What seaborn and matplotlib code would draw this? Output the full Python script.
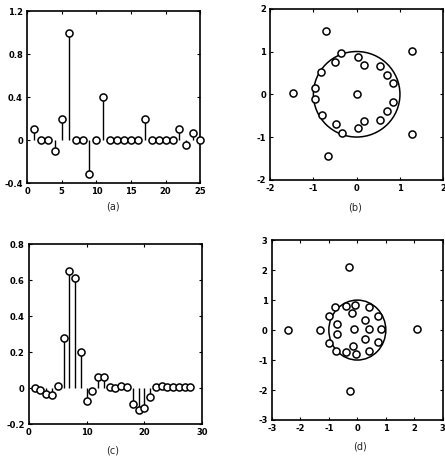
import numpy as np
import pandas as pd
import matplotlib
matplotlib.use("Agg")
import matplotlib.pyplot as plt
from matplotlib.patches import Circle
import seaborn as sns

# ---- data ----
a_n = list(range(1, 26))
a_val = [0.1, 0, 0, -0.1, 0.2, 1.0, 0, 0, -0.32, 0, 0.4, 0, 0, 0, 0, 0,
         0.2, 0, 0, 0, 0, 0.1, -0.05, 0.07, 0]

c_n = list(range(1, 29))
c_val = [0, -0.01, -0.03, -0.04, 0.01, 0.28, 0.65, 0.61, 0.2, -0.07, -0.015,
         0.06, 0.06, 0.005, 0, 0.01, 0.005, -0.09, -0.12, -0.11, -0.05,
         0.005, 0.01, 0.005, 0.005, 0.005, 0.005, 0.005]

b_re = [-0.70, 1.29, -1.46, 0.0, 1.29, -0.66, -0.36, -0.50, -0.82, -0.96,
        -0.96, -0.80, -0.48, -0.35, 0.03, 0.18, 0.55, 0.70, 0.85, 0.85,
        0.70, 0.54, 0.16, 0.02]
b_im = [1.49, 1.01, 0.02, 0.0, -0.93, -1.44, 0.96, 0.75, 0.52, 0.15,
        -0.11, -0.48, -0.70, -0.91, -0.80, -0.63, -0.59, -0.38, -0.18, 0.27,
        0.46, 0.67, 0.69, 0.875]

d_re = [-0.30, -0.27, -2.44, -1.30, 2.09, -0.12, -1.01, -0.77, -0.41, -0.09,
        -0.19, 0.40, 0.74, 0.84, 0.74, 0.41, -0.06, -0.40, -0.76, -0.99,
        -0.71, -0.71, 0.26, 0.41, 0.26, -0.16]
d_im = [2.09, -2.02, 0.0, 0.0, 0.03, 0.02, 0.48, 0.77, 0.79, 0.84,
        0.58, 0.77, 0.46, 0.02, -0.41, -0.70, -0.79, -0.72, -0.70, -0.42,
        0.20, -0.14, 0.34, 0.02, -0.30, -0.53]

a_xticks = [0, 5, 10, 15, 20, 25]
a_yticks = [-0.4, 0, 0.4, 0.8, 1.2]
a_ylabels = ["-0.4", "0", "0.4", "0.8", "1.2"]
c_xticks = [0, 10, 20, 30]
c_yticks = [-0.2, 0, 0.2, 0.4, 0.6, 0.8]
c_ylabels = ["-0.2", "0", "0.2", "0.4", "0.6", "0.8"]
b_ticks = [-2, -1, 0, 1, 2]
d_ticks = [-3, -2, -1, 0, 1, 2, 3]
panel_labels = ["(a)", "(b)", "(c)", "(d)"]

# ---- style ----
sns.set_theme(style="ticks")
plt.rcParams["font.family"] = ["DejaVu Sans"]
plt.rcParams.update({
    "axes.unicode_minus": False,
    "xtick.direction": "in", "ytick.direction": "in",
    "xtick.major.size": 2, "ytick.major.size": 2,
    "xtick.major.width": 0.8, "ytick.major.width": 0.8,
    "xtick.labelsize": 6, "ytick.labelsize": 6,
    "axes.linewidth": 1.2, "axes.edgecolor": "black",
    "xtick.color": "black", "ytick.color": "black",
})

fig = plt.figure(figsize=(4.45, 4.61), dpi=100)
ax_a = fig.add_axes([0.061, 0.603, 0.389, 0.373])
ax_b = fig.add_axes([0.607, 0.610, 0.389, 0.371])
ax_c = fig.add_axes([0.065, 0.080, 0.389, 0.390])
ax_d = fig.add_axes([0.611, 0.089, 0.384, 0.390])

mk = dict(marker="o", s=26, facecolor="white", edgecolor="black",
          linewidth=1.1, zorder=3, legend=False, clip_on=False)


def stem(ax, n, v):
    df = pd.DataFrame({"n": n, "v": v})
    ax.vlines(df["n"], 0, df["v"], color="black", linewidth=1.0, zorder=2)
    sns.scatterplot(data=df, x="n", y="v", ax=ax, **mk)


def style(ax):
    for s in ax.spines.values():
        s.set_visible(True)
        s.set_linewidth(1.2)
    ax.tick_params(top=True, right=True, pad=3, width=0.8)
    ax.set_xlabel("")
    ax.set_ylabel("")
    for lbl in ax.get_xticklabels() + ax.get_yticklabels():
        lbl.set_fontweight("bold")


stem(ax_a, a_n, a_val)
ax_a.set_xlim(0, 25)
ax_a.set_ylim(-0.4, 1.2)
ax_a.set_xticks(a_xticks)
ax_a.set_yticks(a_yticks)
ax_a.set_yticklabels(a_ylabels)
style(ax_a)

stem(ax_c, c_n, c_val)
ax_c.set_xlim(0, 30)
ax_c.set_ylim(-0.2, 0.8)
ax_c.set_xticks(c_xticks)
ax_c.set_yticks(c_yticks)
ax_c.set_yticklabels(c_ylabels)
style(ax_c)


def zplane(ax, re, im, lim, ticks):
    df = pd.DataFrame({"re": re, "im": im})
    ax.add_patch(Circle((0, 0), 1.0, fill=False, edgecolor="black",
                        linewidth=1.1, zorder=2))
    sns.scatterplot(data=df, x="re", y="im", ax=ax, **mk)
    ax.set_xlim(-lim, lim)
    ax.set_ylim(-lim, lim)
    ax.set_xticks(ticks)
    ax.set_yticks(ticks)
    style(ax)


zplane(ax_b, b_re, b_im, 2, b_ticks)
zplane(ax_d, d_re, d_im, 3, d_ticks)

pos = [(0.254, 0.542), (0.798, 0.540), (0.254, 0.013), (0.809, 0.020)]
for (x, y), t in zip(pos, panel_labels):
    fig.text(x, y, t, ha="center", va="bottom", fontsize=7)

fig.savefig("out.png", dpi=100, facecolor="white")
